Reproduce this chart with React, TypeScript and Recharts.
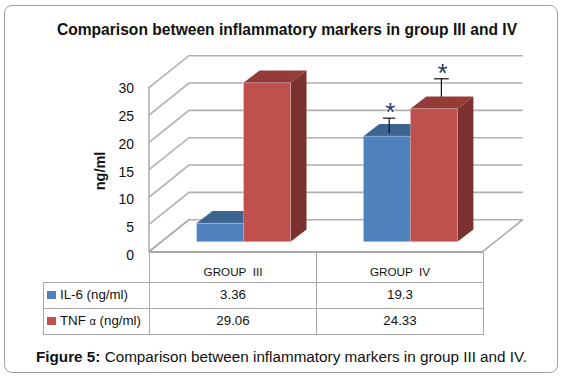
import { Bar, BarChart, CartesianGrid, XAxis, YAxis } from 'recharts'

const categories = ['GROUP  III', 'GROUP  IV']
const il6Values = [3.36, 19.3]
const tnfValues = [29.06, 24.33]
// top and foot of the hand drawn whiskers, in ng/ml
const il6WhiskerTop = [null, 22.6]
const il6WhiskerFoot = [null, 19.9]
const tnfWhiskerTop = [null, 29.8]
const tnfWhiskerFoot = [null, 26.5]
const yTicks = [0, 5, 10, 15, 20, 25, 30]

const data = categories.map((name, i) => ({
  name,
  il6: il6Values[i],
  tnf: tnfValues[i],
}))

const blue = { front: '#4f81bd', top: '#3c6491', side: '#345678' }
const red = { front: '#c0504d', top: '#953b39', side: '#7b312f' }

const depthX = 16
const depthY = 12.3
const fontFamily = 'Arial, "Liberation Sans", sans-serif'

function bar3d(colors: any, whiskerTop: any[], whiskerFoot: any[], shiftX: number, halfCap: number) {
  return (props: any) => {
    const { x, y, width, height, value, index } = props
    const perUnit = height / value
    const bottom = y + height
    const top = whiskerTop[index]
    const foot = whiskerFoot[index]
    const wx = x + width / 2 + shiftX
    return (
      <g>
        <polygon
          points={`${x},${y} ${x + depthX},${y - depthY} ${x + width + depthX},${y - depthY} ${x + width},${y}`}
          fill={colors.top}
        />
        <polygon
          points={`${x + width},${y} ${x + width + depthX},${y - depthY} ${x + width + depthX},${bottom - depthY} ${x + width},${bottom}`}
          fill={colors.side}
        />
        <rect x={x} y={y} width={width} height={height} fill={colors.front} stroke="#ffffff" strokeOpacity={0.25} />
        {top != null && (
          <g stroke="#111111" strokeWidth={1.2}>
            <line x1={wx} x2={wx} y1={bottom - foot * perUnit} y2={bottom - top * perUnit} />
            <line x1={wx - halfCap} x2={wx + halfCap} y1={bottom - top * perUnit} y2={bottom - top * perUnit} />
            <text
              x={wx + 1.2}
              y={bottom - top * perUnit + 3}
              textAnchor="middle"
              fontSize={26}
              fontFamily={fontFamily}
              fill="#1f3a66"
              stroke="#ffffff"
              strokeWidth={1.5}
              paintOrder="stroke"
            >
              *
            </text>
          </g>
        )}
      </g>
    )
  }
}

// grid lines are bent over the left wall and run along the back wall
function wallLine(props: any) {
  const { x2, y1 } = props
  return (
    <polyline
      key={props.key ?? y1}
      points={`149,${y1 + 10} 189,${y1 - 22} ${x2 + 28.4},${y1 - 22}`}
      fill="none"
      stroke="#b0b0b0"
      strokeWidth={1.6}
    />
  )
}

function YTick(props: any) {
  const { y, payload } = props
  return (
    <text x={134} y={255 - (241.7 - y) * 1.018 + 5} textAnchor="end" fontSize={14} fontFamily={fontFamily} fill="#111">
      {payload.value}
    </text>
  )
}

const cell = { border: '1.5px solid #a8a8a8', padding: 0, paddingBottom: 3, textAlign: 'center' as const }

function Swatch({ color }: { color: string }) {
  return <span style={{ display: 'inline-block', width: 9, height: 8, background: color, marginRight: 4 }} />
}

export default function App() {
  return (
    <div style={{ position: 'fixed', left: 0, top: 0, width: 563, height: 376, background: '#fff', fontFamily, overflow: 'hidden' }}>
      <div style={{ position: 'absolute', left: 4, top: 5, width: 552, height: 366, border: '1.5px solid #a0a0a0', borderRadius: 8 }} />
      <div style={{ position: 'absolute', left: 0, width: 574, top: 21, textAlign: 'center', fontWeight: 700, fontSize: 15.6, color: '#111' }}>
        Comparison between inflammatory markers in group III and IV
      </div>
      <div
        style={{
          position: 'absolute',
          left: 100,
          top: 171,
          fontWeight: 700,
          fontSize: 14.5,
          color: '#111',
          transform: 'translate(-50%,-50%) rotate(-90deg)',
        }}
      >
        ng/ml
      </div>
      <div style={{ position: 'absolute', left: 0, top: 0 }}>
        <BarChart
          width={563}
          height={376}
          data={data}
          margin={{ top: 77.7, left: 100.5, right: 68.7, bottom: 134.3 }}
          barCategoryGap={36}
          barGap={0}
        >
          <CartesianGrid vertical={false} horizontal={wallLine} />
          <XAxis dataKey="name" hide />
          <YAxis domain={[0, 30]} ticks={yTicks} width={60} axisLine={false} tickLine={false} tick={<YTick />} interval={0} />
          <Bar dataKey="il6" isAnimationActive={false} shape={bar3d(blue, il6WhiskerTop, il6WhiskerFoot, 2.3, 6.2)} />
          <Bar dataKey="tnf" isAnimationActive={false} shape={bar3d(red, tnfWhiskerTop, tnfWhiskerFoot, 7.5, 7.4)} />
        </BarChart>
      </div>
      <svg width={563} height={376} style={{ position: 'absolute', left: 0, top: 0, pointerEvents: 'none' }}>
        <g stroke="#a8a8a8" strokeWidth={1.5} fill="none">
          <line x1={149} x2={149} y1={86.7} y2={252} />
          <line x1={149} x2={482.7} y1={251.7} y2={251.7} />
          <line x1={482.7} x2={522.7} y1={251.7} y2={219.7} />
          <line x1={149} x2={189} y1={251.7} y2={219.7} />
        </g>
      </svg>
      <table
        style={{
          position: 'absolute',
          left: 43,
          top: 252,
          width: 440,
          borderCollapse: 'collapse',
          tableLayout: 'fixed',
          fontSize: 13.3,
          color: '#111',
        }}
      >
        <colgroup>
          <col style={{ width: 106 }} />
          <col style={{ width: 167 }} />
          <col style={{ width: 167 }} />
        </colgroup>
        <tbody>
          <tr style={{ height: 30 }}>
            <td style={{ border: 'none', borderRight: cell.border, borderBottom: cell.border }} />
            {categories.map((c) => (
              <td key={c} style={{ ...cell, fontSize: 11.7, whiteSpace: 'pre', paddingTop: 7, paddingBottom: 0 }}>
                {c}
              </td>
            ))}
          </tr>
          <tr style={{ height: 26 }}>
            <td style={{ ...cell, textAlign: 'left', paddingLeft: 3 }}>
              <Swatch color={blue.front} />
              IL-6 (ng/ml)
            </td>
            {il6Values.map((v, i) => (
              <td key={i} style={cell}>{v}</td>
            ))}
          </tr>
          <tr style={{ height: 26 }}>
            <td style={{ ...cell, textAlign: 'left', paddingLeft: 3 }}>
              <Swatch color={red.front} />
              TNF <span style={{ fontSize: 11 }}>α</span> (ng/ml)
            </td>
            {tnfValues.map((v, i) => (
              <td key={i} style={cell}>{v}</td>
            ))}
          </tr>
        </tbody>
      </table>
      <div style={{ position: 'absolute', left: 36, top: 348, fontSize: 15.25, color: '#111', whiteSpace: 'nowrap' }}>
        <b>Figure 5:</b> Comparison between inflammatory markers in group III and IV.
      </div>
    </div>
  )
}
